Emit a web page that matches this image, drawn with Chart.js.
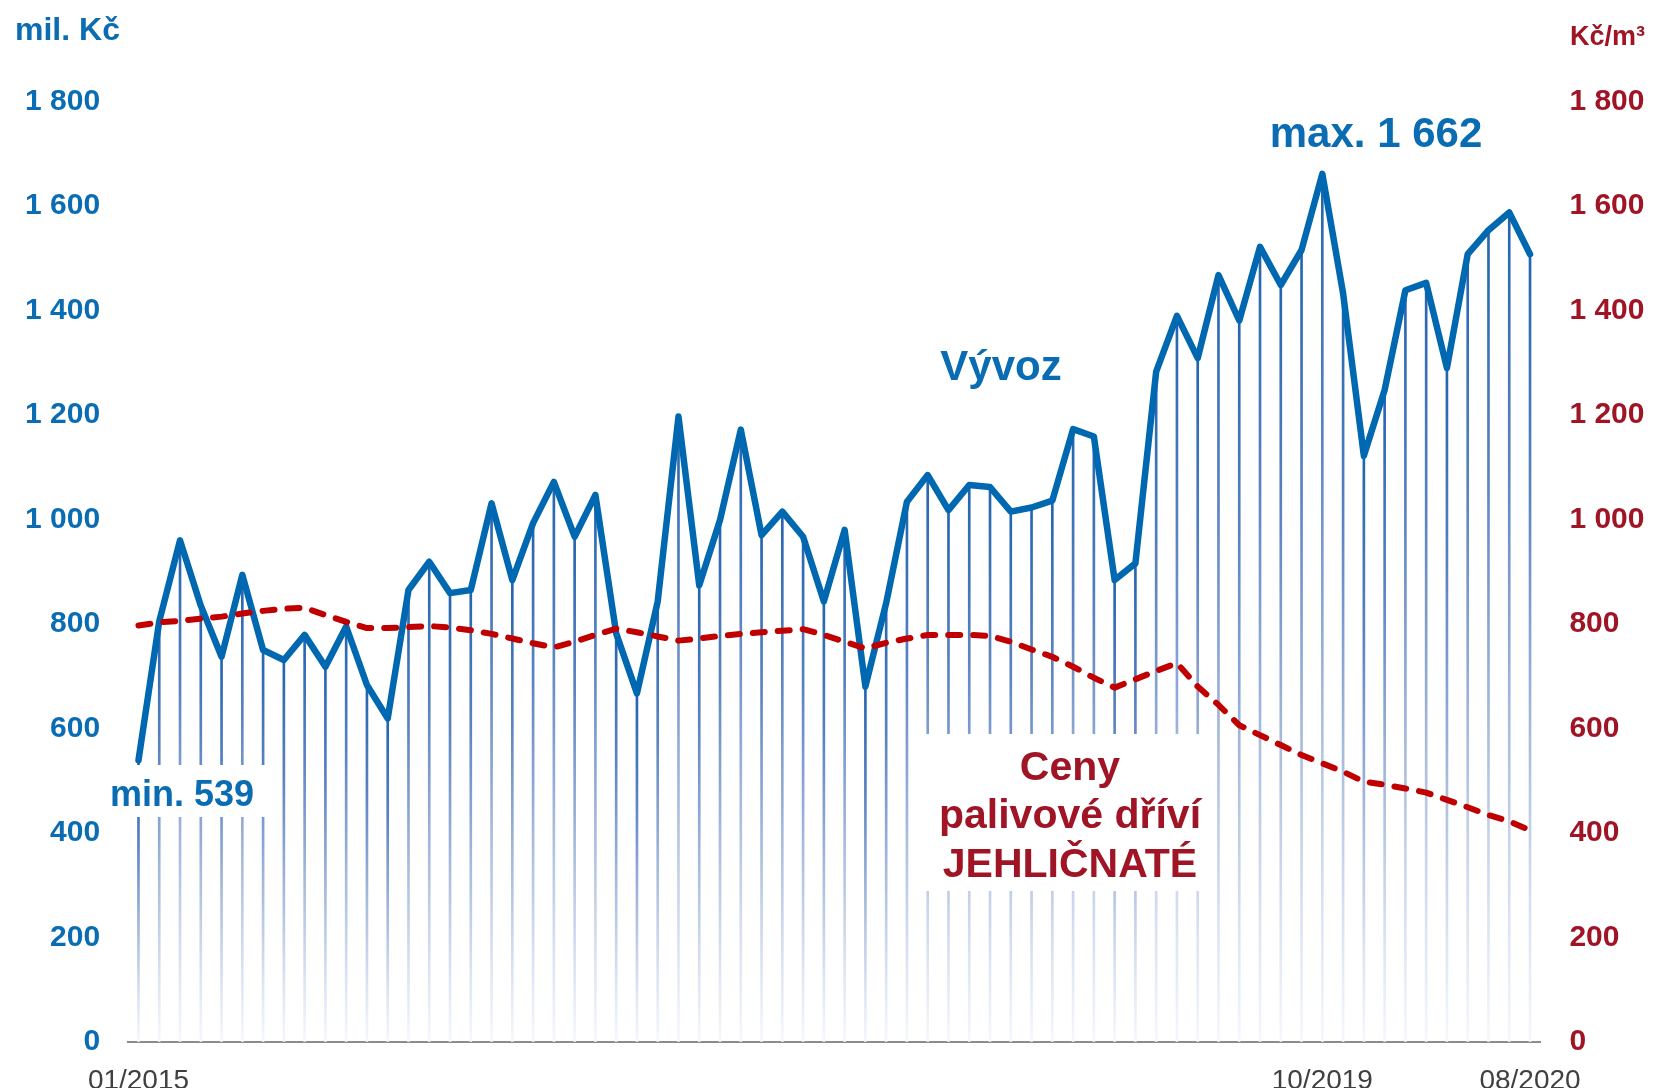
<!DOCTYPE html>
<html lang="cs">
<head>
<meta charset="utf-8">
<title>Vývoz a ceny palivového dříví</title>
<script src="https://cdn.jsdelivr.net/npm/chart.js@4.4.1/dist/chart.umd.min.js"></script>
<style>
    html, body { margin: 0; padding: 0; background: #fff; }
    #chart { display: block; }
</style>
</head>
<body>
<canvas id="chart" width="1654" height="1088"></canvas>
<script>
// měsíce 01/2015 – 08/2020
const months = [
    '01/2015', '02/2015', '03/2015', '04/2015', '05/2015', '06/2015', '07/2015', '08/2015', '09/2015', '10/2015', '11/2015', '12/2015',
    '01/2016', '02/2016', '03/2016', '04/2016', '05/2016', '06/2016', '07/2016', '08/2016', '09/2016', '10/2016', '11/2016', '12/2016',
    '01/2017', '02/2017', '03/2017', '04/2017', '05/2017', '06/2017', '07/2017', '08/2017', '09/2017', '10/2017', '11/2017', '12/2017',
    '01/2018', '02/2018', '03/2018', '04/2018', '05/2018', '06/2018', '07/2018', '08/2018', '09/2018', '10/2018', '11/2018', '12/2018',
    '01/2019', '02/2019', '03/2019', '04/2019', '05/2019', '06/2019', '07/2019', '08/2019', '09/2019', '10/2019', '11/2019', '12/2019',
    '01/2020', '02/2020', '03/2020', '04/2020', '05/2020', '06/2020', '07/2020', '08/2020'
];

// Vývoz (mil. Kč)
const exportValues = [
    539, 805, 960, 835, 737, 894, 750, 731, 779, 718, 795, 683,
    619, 865, 919, 859, 865, 1031, 884, 993, 1072, 967, 1047, 782,
    667, 843, 1197, 874, 999, 1172, 970, 1015, 967, 843, 980, 680,
    840, 1034, 1085, 1018, 1066, 1062, 1015, 1023, 1036, 1173, 1159, 884,
    916, 1283, 1390, 1309, 1468, 1381, 1522, 1449, 1516, 1662, 1433, 1122,
    1248, 1439, 1453, 1290, 1508, 1554, 1588, 1508
];

// Ceny palivové dříví jehličnaté (Kč/m3)
const priceValues = [
    797, 803, 806, 810, 814, 820, 825, 829, 831, 817, 804, 792,
    792, 794, 796, 793, 788, 781, 772, 763, 755, 766, 779, 791,
    784, 776, 768, 772, 777, 781, 784, 787, 790, 779, 766, 753,
    764, 772, 779, 779, 779, 777, 766, 751, 737, 718, 697, 678,
    694, 710, 725, 680, 645, 606, 587, 568, 549, 533, 517, 498,
    492, 485, 477, 463, 449, 434, 422, 405
];

const shownMonths = ['01/2015', '10/2019', '08/2020'];
const yTicks = [0, 200, 400, 600, 800, 1000, 1200, 1400, 1600, 1800];

const BLUE = '#0a6cb2';
const BLUE_LINE = '#0068b0';
const DARK_RED = '#a01525';
const RED_LINE = '#c00000';
const FONT = '"Liberation Sans", Arial, sans-serif';

Chart.defaults.font.family = FONT;

function formatThousands(v) {
    if (v < 1000) return String(v);
    return Math.floor(v / 1000) + ' ' + String(v % 1000).padStart(3, '0');
}

// svislé čáry – přechod od modré k bílé
function dropGradient(context) {
    const chart = context.chart;
    const { ctx, chartArea, scales } = chart;
    if (!chartArea || context.raw === undefined) return '#5b86c0';
    const top = scales.y.getPixelForValue(context.raw);
    const bottom = scales.y.getPixelForValue(0);
    const g = ctx.createLinearGradient(0, top, 0, bottom);
    g.addColorStop(0, 'rgb(35,100,175)');
    g.addColorStop(0.3, 'rgb(90,130,192)');
    g.addColorStop(0.6, 'rgb(165,185,220)');
    g.addColorStop(0.85, 'rgb(220,228,242)');
    g.addColorStop(1, 'rgb(245,248,252)');
    return g;
}

// bílé podklady pod popisky (kryjí svislé čáry)
const labelBoxes = {
    id: 'labelBoxes',
    afterDatasetDraw(chart, args) {
        if (args.index !== 0) return;
        const c = chart.ctx;
        c.save();
        c.fillStyle = '#fff';
        c.fillRect(100, 765, 173, 52);
        c.fillRect(915, 734, 293, 157);
        c.restore();
    }
};

const annotations = {
    id: 'annotations',
    afterDraw(chart) {
        const c = chart.ctx;
        c.save();
        c.textBaseline = 'alphabetic';

        c.fillStyle = BLUE;
        c.textAlign = 'left';
        c.font = `bold 32px ${FONT}`;
        c.fillText('mil. Kč', 15, 40);

        c.fillStyle = DARK_RED;
        c.font = `bold 27px ${FONT}`;
        c.fillText('Kč/m³', 1570, 45);

        c.fillStyle = BLUE;
        c.textAlign = 'center';
        c.font = `bold 42px ${FONT}`;
        c.fillText('max. 1 662', 1376, 147);
        c.fillText('Vývoz', 1001, 380);

        c.textAlign = 'left';
        c.font = `bold 36px ${FONT}`;
        c.fillText('min. 539', 110, 806);

        c.fillStyle = DARK_RED;
        c.textAlign = 'center';
        c.font = `bold 41px ${FONT}`;
        c.fillText('Ceny', 1070, 780);
        c.fillText('palivové dříví', 1070, 828);
        c.fillText('JEHLIČNATÉ', 1070, 877);
        c.restore();
    }
};

const ctx = document.getElementById('chart').getContext('2d');

new Chart(ctx, {
    type: 'bar',
    data: {
        labels: months,
        datasets: [
            {
                type: 'bar',
                label: 'drop',
                data: exportValues,
                yAxisID: 'y',
                barThickness: 2,
                backgroundColor: dropGradient,
                borderWidth: 0,
                order: 3
            },
            {
                type: 'line',
                label: 'Ceny',
                data: priceValues,
                yAxisID: 'y1',
                borderColor: RED_LINE,
                borderWidth: 6,
                borderDash: [12, 13],
                borderCapStyle: 'round',
                borderJoinStyle: 'round',
                pointRadius: 0,
                tension: 0,
                fill: false,
                order: 1
            },
            {
                type: 'line',
                label: 'Vývoz',
                data: exportValues,
                yAxisID: 'y',
                borderColor: BLUE_LINE,
                borderWidth: 6.5,
                borderJoinStyle: 'round',
                borderCapStyle: 'round',
                pointRadius: 0,
                tension: 0,
                fill: false,
                order: 2
            }
        ]
    },
    options: {
        responsive: false,
        animation: false,
        events: [],
        layout: { padding: { top: 101.7, left: 0, right: 0, bottom: 0 } },
        plugins: {
            legend: { display: false },
            tooltip: { enabled: false }
        },
        scales: {
            x: {
                grid: { display: false },
                border: { display: true, color: '#8c8c8c', width: 2 },
                ticks: {
                    autoSkip: false,
                    maxRotation: 0,
                    padding: 15,
                    color: '#404040',
                    font: { size: 28 },
                    callback: (val, idx) => shownMonths.includes(months[idx]) ? months[idx] : ''
                },
                afterFit: scale => { scale.height = 46.3; }
            },
            y: {
                position: 'left',
                min: 0,
                max: 1800,
                grid: { display: false },
                border: { display: false },
                afterBuildTicks: scale => { scale.ticks = yTicks.map(v => ({ value: v })); },
                ticks: {
                    padding: 20,
                    color: BLUE,
                    font: { size: 30, weight: 'bold' },
                    callback: v => formatThousands(v)
                },
                afterFit: scale => { scale.width = 128.1; }
            },
            y1: {
                position: 'right',
                min: 0,
                max: 1800,
                grid: { display: false },
                border: { display: false },
                afterBuildTicks: scale => { scale.ticks = yTicks.map(v => ({ value: v })); },
                ticks: {
                    padding: 21,
                    color: DARK_RED,
                    font: { size: 30, weight: 'bold' },
                    callback: v => formatThousands(v)
                },
                afterFit: scale => { scale.width = 113.6; }
            }
        }
    },
    plugins: [labelBoxes, annotations]
});
</script>
</body>
</html>
